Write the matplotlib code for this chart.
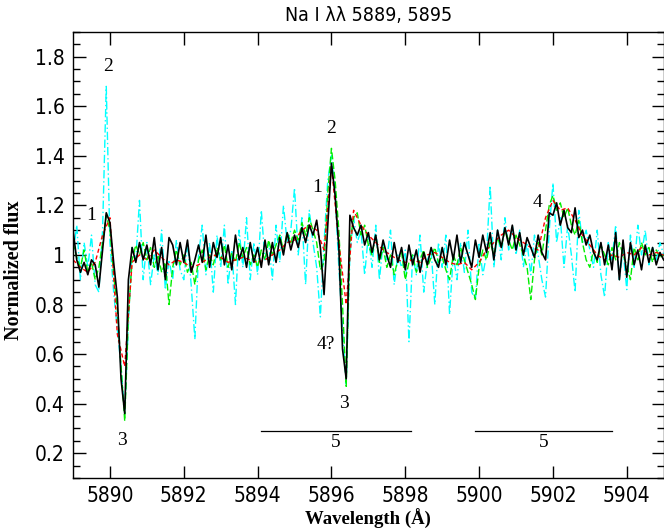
import numpy as np
import matplotlib
matplotlib.use("Agg")
from matplotlib import pyplot as plt
from matplotlib import font_manager
from matplotlib.ticker import MultipleLocator


# wavelength grid start, step 0.1 A (rows = 1 A each)
wl_start = 5889.0

black_rows = [
    [1.10, 0.98, 0.93, 0.97, 0.92, 0.98, 0.96, 0.87, 1.02, 1.17],  # 5889
    [1.13, 0.97, 0.83, 0.50, 0.36, 0.90, 1.03, 0.97, 1.05, 0.98],  # 5890
    [1.04, 0.96, 1.07, 0.94, 1.03, 0.90, 1.07, 1.04, 0.96, 1.05],  # 5891
    [0.97, 1.06, 0.93, 0.98, 1.04, 0.97, 1.08, 0.95, 1.05, 0.99],  # 5892
    [1.07, 0.96, 1.04, 0.94, 1.08, 0.98, 1.03, 0.95, 1.05, 0.97],  # 5893
    [1.03, 0.95, 1.06, 0.96, 1.05, 0.97, 1.07, 1.00, 1.09, 1.02],  # 5894
    [1.08, 1.03, 1.11, 1.05, 1.12, 1.08, 1.14, 1.03, 0.84, 1.12],  # 5895
    [1.37, 1.24, 1.03, 0.62, 0.50, 1.16, 1.11, 1.08, 1.12, 1.04],  # 5896
    [1.09, 1.01, 1.08, 0.98, 1.06, 1.00, 0.95, 1.05, 0.97, 1.03],  # 5897
    [0.94, 1.04, 0.96, 1.02, 0.93, 1.01, 0.96, 1.03, 0.98, 0.95],  # 5898
    [1.03, 0.96, 1.06, 0.98, 1.08, 0.97, 1.05, 1.00, 0.95, 1.06],  # 5899
    [0.99, 1.08, 1.01, 1.09, 0.98, 1.10, 1.03, 1.11, 1.04, 1.12],  # 5900
    [1.02, 1.09, 1.00, 1.07, 1.03, 0.99, 1.08, 1.01, 0.98, 1.17],  # 5901
    [1.16, 1.21, 1.12, 1.18, 1.11, 1.09, 1.19, 1.07, 1.10, 1.04],  # 5902
    [1.08, 1.01, 0.98, 1.05, 0.96, 1.04, 0.94, 1.09, 0.90, 1.06],  # 5903
    [0.91, 1.05, 0.96, 1.02, 0.94, 1.04, 0.97, 1.03, 0.96, 1.01],  # 5904
    [0.98],
]

green_rows = [
    [1.05, 0.99, 0.95, 1.02, 0.93, 0.97, 0.90, 0.95, 1.05, 1.16],
    [1.10, 0.92, 0.78, 0.55, 0.33, 0.75, 0.98, 1.04, 1.00, 1.05],
    [0.98, 1.03, 0.95, 1.00, 0.93, 0.97, 0.80, 0.95, 1.02, 0.96],
    [1.00, 0.93, 0.97, 0.88, 0.98, 1.02, 0.94, 1.00, 0.96, 1.03],
    [0.98, 1.04, 0.95, 1.01, 0.97, 1.05, 0.99, 1.03, 0.96, 1.00],
    [0.95, 1.02, 0.98, 1.06, 1.00, 1.04, 1.08, 1.02, 1.09, 1.05],
    [1.10, 1.06, 1.13, 1.08, 1.15, 1.10, 1.05, 0.94, 0.97, 1.25],
    [1.43, 1.30, 1.10, 0.80, 0.47, 1.05, 1.15, 1.17, 1.08, 1.12],
    [1.04, 1.00, 1.08, 0.97, 1.03, 0.95, 1.00, 0.92, 0.98, 1.01],
    [0.90, 0.97, 1.00, 0.93, 0.98, 1.02, 0.95, 0.99, 1.03, 0.97],
    [0.99, 0.94, 0.90, 1.00, 0.96, 1.03, 0.98, 0.93, 0.88, 0.82],
    [0.95, 1.02, 0.98, 1.05, 1.00, 1.07, 1.03, 1.10, 1.06, 1.02],
    [1.08, 1.04, 1.00, 0.95, 0.82, 0.98, 1.05, 1.00, 1.10, 1.20],
    [1.24, 1.18, 1.21, 1.15, 1.19, 1.12, 1.08, 1.14, 1.05, 0.98],
    [0.95, 1.02, 0.97, 1.04, 1.00, 0.96, 1.03, 0.98, 1.05, 1.00],
    [0.96, 0.90, 1.03, 0.98, 1.05, 1.00, 1.03, 0.97, 1.02, 0.99],
    [1.00],
]

cyan_rows = [
    [1.00, 1.12, 0.90, 1.05, 0.95, 1.08, 0.88, 0.85, 1.10, 1.68],
    [1.05, 0.85, 0.70, 0.55, 0.36, 0.72, 1.03, 0.98, 1.22, 0.90],
    [1.05, 0.88, 1.00, 0.92, 1.10, 0.86, 0.98, 0.90, 1.06, 0.94],
    [0.90, 1.05, 0.88, 0.66, 1.00, 1.12, 0.92, 1.05, 0.85, 1.08],
    [0.95, 1.12, 0.88, 1.02, 0.80, 1.10, 0.95, 1.15, 0.90, 1.05],
    [0.92, 1.18, 0.98, 1.05, 0.90, 1.12, 0.97, 1.20, 1.05, 1.10],
    [1.27, 1.00, 1.15, 0.88, 1.18, 1.05, 0.95, 0.75, 1.05, 1.30],
    [1.40, 1.25, 0.95, 0.70, 0.48, 1.00, 1.15, 1.05, 1.10, 0.92],
    [1.08, 0.95, 1.12, 0.90, 1.05, 0.98, 1.10, 0.88, 1.00, 0.95],
    [1.02, 0.65, 1.00, 0.92, 1.08, 0.85, 0.98, 1.02, 0.80, 1.05],
    [0.95, 1.08, 0.76, 1.00, 0.90, 1.05, 0.93, 1.10, 0.85, 0.82],
    [1.05, 0.92, 1.00, 1.28, 0.95, 1.10, 0.98, 1.15, 1.02, 1.12],
    [1.00, 1.10, 0.95, 1.05, 0.92, 1.08, 1.00, 0.90, 0.83, 1.10],
    [1.29, 1.05, 1.15, 0.95, 1.12, 1.00, 0.85, 1.18, 1.05, 1.10],
    [1.02, 0.95, 1.10, 0.92, 0.83, 1.05, 0.98, 1.12, 0.90, 1.02],
    [0.86, 1.08, 0.95, 1.12, 1.00, 1.10, 0.96, 1.03, 0.98, 1.05],
    [1.00],
]

# red is a lower resolution spectrum, step 0.2 A
red_rows = [
    [0.98, 0.95, 0.93, 0.97, 1.08],  # 5889
    [1.15, 0.68, 0.55, 0.97, 1.00],  # 5890
    [0.98, 1.02, 0.99, 0.96, 0.98],
    [0.97, 0.95, 0.96, 0.98, 1.00],
    [0.99, 0.97, 0.98, 0.99, 0.98],
    [0.97, 0.98, 1.00, 1.02, 1.05],
    [1.06, 1.10, 1.12, 1.10, 1.02],  # 5895
    [1.36, 1.05, 0.80, 1.18, 1.12],  # 5896
    [1.08, 1.05, 1.02, 1.00, 0.98],
    [0.97, 0.98, 0.97, 1.00, 1.01],
    [0.99, 0.97, 0.96, 0.97, 0.94],
    [0.97, 1.02, 1.05, 1.08, 1.10],  # 5900
    [1.07, 1.05, 1.03, 1.02, 1.15],
    [1.22, 1.18, 1.19, 1.14, 1.08],
    [1.04, 1.00, 0.98, 1.00, 0.99],
    [1.01, 1.00, 1.03, 1.00, 1.01],
    [1.00],
]

# line labels: (text, wavelength, flux)
labels = [
    ("2", 5889.95, 1.76),
    ("1", 5889.50, 1.16),
    ("3", 5890.32, 0.25),
    ("2", 5896.00, 1.51),
    ("1", 5895.62, 1.27),
    ("4?", 5895.86, 0.64),
    ("3", 5896.35, 0.40),
    ("4", 5901.57, 1.21),
]

# horizontal bars marking feature 5
bars = [(5894.1, 5898.15), (5899.9, 5903.6)]
bar_y = 0.29
bar_label_y = 0.245


def flatten(rows):
    return np.array([v for r in rows for v in r])


black = flatten(black_rows)
green = flatten(green_rows)
cyan = flatten(cyan_rows)
red = flatten(red_rows)

wl = wl_start + 0.1 * np.arange(len(black))
wl_red = wl_start + 0.2 * np.arange(len(red))

# pick a narrow sans if one is installed, else condensed DejaVu
names = {f.name for f in font_manager.fontManager.ttflist}
narrow = [n for n in ["Liberation Sans Narrow", "DejaVu Sans Condensed"] if n in names]
if narrow:
    plt.rcParams["font.family"] = narrow + ["DejaVu Sans"]
else:
    plt.rcParams["font.family"] = ["DejaVu Sans"]
    plt.rcParams["font.stretch"] = "condensed"
serif = ["Liberation Serif", "DejaVu Serif"]

fig = plt.figure(figsize=(6.64, 5.30), dpi=100)
ax = fig.add_axes([0.110, 0.098, 0.8895, 0.842])

ax.plot(wl, cyan, color="#00ffff", lw=1.0, ls=(0, (6, 2, 1, 2)))
ax.plot(wl, green, color="#00ee00", lw=1.0, ls=(0, (5, 2)))
ax.plot(wl_red, red, color="#ff0000", lw=1.0, ls=(0, (3, 2)))
ax.plot(wl, black, color="black", lw=1.2)

for txt, x, y in labels:
    ax.text(x, y, txt, ha="center", va="center", fontsize=14, family=serif,
            stretch="normal")

for x0, x1 in bars:
    ax.plot([x0, x1], [bar_y, bar_y], color="black", lw=0.9)
    ax.text((x0 + x1) / 2, bar_label_y, "5", ha="center", va="center",
            fontsize=14, family=serif, stretch="normal")

ax.set_xlim(5889, 5905)
ax.set_ylim(0.1, 1.9)
ax.xaxis.set_major_locator(MultipleLocator(2))
ax.yaxis.set_major_locator(MultipleLocator(0.2))
ax.yaxis.set_minor_locator(MultipleLocator(0.05))
ax.yaxis.set_major_formatter(plt.FuncFormatter(lambda v, p: f"{v:g}"))
ax.tick_params(which="both", direction="in", top=True, right=True, width=1)
ax.tick_params(which="major", length=9, labelsize=15, pad=6)
ax.tick_params(which="minor", length=5)
for sp in ax.spines.values():
    sp.set_linewidth(1.0)

ax.set_title("Na I λλ 5889, 5895", fontsize=14, pad=8)
ax.set_xlabel("Wavelength (Å)", fontsize=13.5, family=serif,
              fontweight="bold", stretch="normal", labelpad=2)
ax.set_ylabel("Normalized flux", fontsize=14.5, family=serif,
              fontweight="bold", stretch="normal")
ax.yaxis.set_label_coords(-0.083, 0.466)

fig.savefig("out.png", dpi=100)
